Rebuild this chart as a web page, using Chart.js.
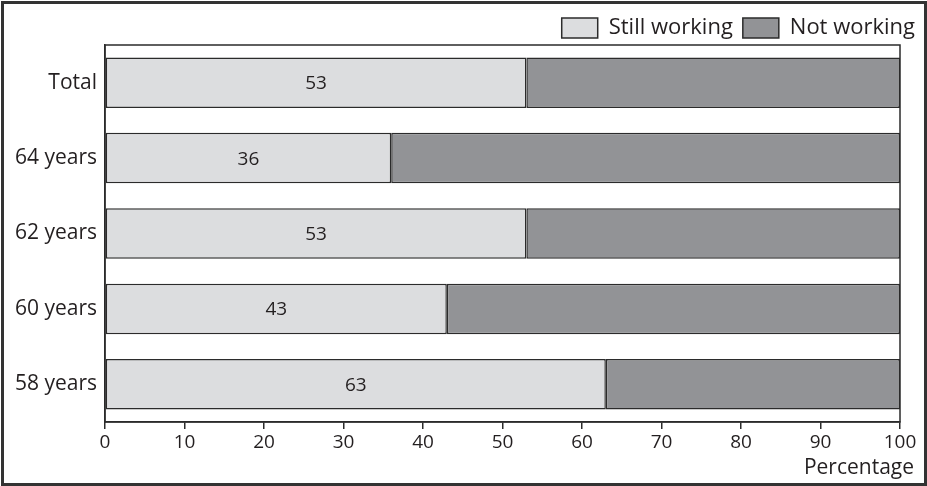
<!DOCTYPE html>
<html>
<head>
<meta charset="utf-8">
<script src="https://cdn.jsdelivr.net/npm/chart.js@4.4.1/dist/chart.umd.min.js"></script>
<style>
  html, body { margin: 0; padding: 0; background: #fff; }
  #wrap { width: 927px; height: 486px; position: relative; }
</style>
</head>
<body>
<div id="wrap"><canvas id="c" width="927" height="486"></canvas></div>
<script>
// Share of people still working, by age group
const categories = ['Total', '64 years', '62 years', '60 years', '58 years'];
const stillWorking = [53, 36, 53, 43, 63];
const notWorking = stillWorking.map(v => 100 - v);
const xTicks = [0, 10, 20, 30, 40, 50, 60, 70, 80, 90, 100];

const INK = '#2b2b2b';
const TEXT = '#231f20';
const FONT = '"Open Sans", "Noto Sans", sans-serif';

// Outer figure frame, plot frame, value labels and the axis caption
const decorations = {
  id: 'decorations',
  beforeDraw(chart) {
    const ctx = chart.ctx;
    ctx.save();
    ctx.fillStyle = '#fff';
    ctx.fillRect(0, 0, chart.width, chart.height);
    ctx.restore();
  },
  afterDatasetsDraw(chart) {
    const ctx = chart.ctx;
    const a = chart.chartArea;
    ctx.save();
    // plot frame
    ctx.strokeStyle = INK;
    ctx.lineWidth = 1.5;
    ctx.strokeRect(a.left, a.top, a.right - a.left, a.bottom - a.top);
    // value labels inside the "Still working" segments
    const meta = chart.getDatasetMeta(0);
    ctx.fillStyle = TEXT;
    ctx.font = '19px ' + FONT;
    ctx.textAlign = 'center';
    ctx.textBaseline = 'middle';
    meta.data.forEach((bar, i) => {
      const cx = (bar.base + bar.x) / 2;
      ctx.fillText(String(stillWorking[i]), cx, bar.y + 1);
    });
    // x-axis caption
    ctx.font = '21px ' + FONT;
    ctx.textAlign = 'right';
    ctx.textBaseline = 'middle';
    ctx.fillText('Percentage', a.right + 14, a.bottom + 46);
    // outer frame
    ctx.strokeStyle = '#333';
    ctx.lineWidth = 3;
    ctx.strokeRect(2.5, 2.5, chart.width - 4, chart.height - 4);
    ctx.restore();
  }
};

new Chart(document.getElementById('c'), {
  type: 'bar',
  data: {
    labels: categories,
    datasets: [
      {
        label: 'Still working',
        data: stillWorking,
        backgroundColor: '#dcdddf',
        borderColor: INK,
        borderWidth: 1.5,
        borderSkipped: false
      },
      {
        label: 'Not working',
        data: notWorking,
        backgroundColor: '#929396',
        borderColor: INK,
        borderWidth: 1.5,
        borderSkipped: false
      }
    ]
  },
  options: {
    indexAxis: 'y',
    responsive: false,
    animation: false,
    devicePixelRatio: 1,
    layout: { padding: { left: 3, right: 2, top: 7, bottom: 3 } },
    datasets: { bar: { categoryPercentage: 1, barPercentage: 0.67 } },
    plugins: {
      legend: {
        position: 'top',
        align: 'end',
        maxHeight: 38,
        labels: {
          boxWidth: 36,
          boxHeight: 20,
          padding: 10,
          color: TEXT,
          font: { family: FONT, size: 22 },
          generateLabels(chart) {
            return chart.data.datasets.map((ds, i) => ({
              text: ds.label,
              fillStyle: ds.backgroundColor,
              strokeStyle: INK,
              lineWidth: 1.5,
              datasetIndex: i,
              fontColor: TEXT
            }));
          }
        }
      },
      tooltip: { enabled: false }
    },
    scales: {
      x: {
        stacked: true,
        min: 0,
        max: 100,
        afterBuildTicks(scale) { scale.ticks = xTicks.map(v => ({ value: v })); },
        grid: { drawOnChartArea: false, drawTicks: true, tickLength: 7, color: INK, lineWidth: 1.5 },
        border: { display: true, color: INK, width: 1.5 },
        ticks: { color: TEXT, font: { family: FONT, size: 19 }, padding: 2, maxRotation: 0 },
        afterFit(scale) {
          scale.height = 61;
          scale.paddingRight = 27;
          scale.paddingLeft = 0;
        }
      },
      y: {
        stacked: true,
        grid: { display: false, drawTicks: false },
        border: { display: true, color: INK, width: 1.5 },
        ticks: { color: TEXT, font: { family: FONT, size: 21 }, padding: 8 },
        afterFit(scale) { scale.width = 102; }
      }
    }
  },
  plugins: [decorations]
});
</script>
</body>
</html>
